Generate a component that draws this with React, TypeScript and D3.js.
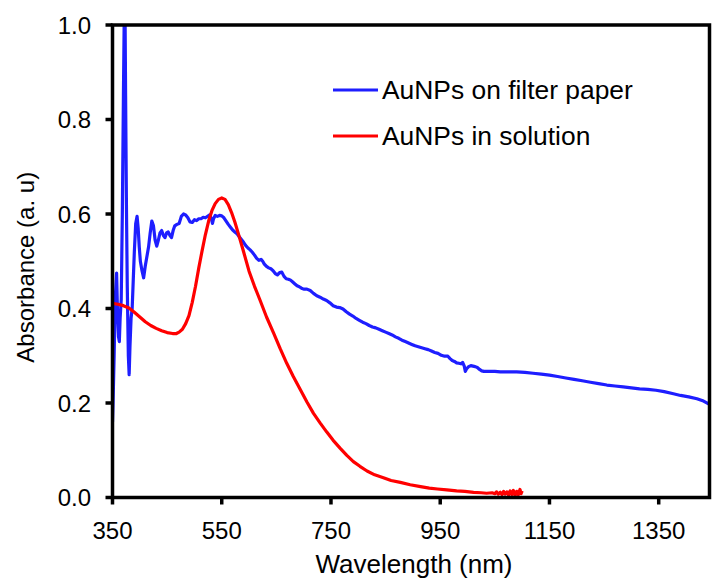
import React from "react";
import * as d3 from "d3";

const blueWavelength = [350,351,353,355,357.5,359,361,362.5,364,366,368,370,371.5,373,374,375.5,377,379,380.5,382,384,386,388,390,392.5,395,397,399,401,404,407,410,413,416,419,422,425,428,431,434,437,440,443,446,449,452,455,458,461,464,468,472,476,480,484,488,492,496,500,504,508,512,516,520,524,528,531,533,535,538,542,546,550,554,558,562,566,570,574,578,582,586,590,594,598,602,606,610,614,618,622,625,628,632,636,640,644,648,652,656,660,664,668,672,676,680,684,688,692,696,700,706,712,718,724,730,736,742,748,754,760,766,772,778,784,790,796,802,808,814,820,826,832,838,844,850,856,862,868,874,880,886,892,898,904,910,916,922,928,934,940,946,952,958,964,968,972,976,980,984,988,991,994,996,998,1002,1006,1010,1014,1018,1022,1026,1030,1040,1050,1060,1075,1090,1105,1120,1135,1150,1165,1180,1195,1210,1225,1240,1255,1270,1285,1300,1315,1330,1345,1360,1375,1390,1405,1420,1432,1443];
const blueAbsorbance = [0.16,0.2,0.3,0.42,0.475,0.4,0.34,0.33,0.38,0.42,0.6,0.85,1.02,1.02,0.85,0.62,0.45,0.3,0.26,0.32,0.38,0.4,0.46,0.52,0.58,0.595,0.57,0.53,0.5,0.48,0.465,0.49,0.51,0.53,0.56,0.585,0.575,0.545,0.532,0.545,0.56,0.565,0.555,0.55,0.56,0.562,0.555,0.55,0.565,0.575,0.578,0.58,0.595,0.6,0.598,0.592,0.583,0.582,0.588,0.586,0.59,0.59,0.593,0.592,0.595,0.598,0.59,0.58,0.59,0.597,0.595,0.597,0.596,0.592,0.585,0.578,0.572,0.566,0.562,0.558,0.552,0.546,0.54,0.533,0.528,0.524,0.519,0.513,0.506,0.502,0.504,0.5,0.494,0.489,0.486,0.484,0.48,0.474,0.471,0.476,0.477,0.468,0.463,0.462,0.46,0.456,0.452,0.448,0.446,0.443,0.441,0.441,0.438,0.432,0.427,0.424,0.42,0.417,0.412,0.406,0.403,0.402,0.399,0.393,0.388,0.384,0.379,0.375,0.371,0.368,0.364,0.361,0.359,0.356,0.353,0.35,0.347,0.344,0.34,0.337,0.333,0.33,0.327,0.324,0.321,0.319,0.317,0.315,0.313,0.31,0.307,0.305,0.301,0.299,0.299,0.294,0.29,0.288,0.285,0.284,0.283,0.286,0.278,0.267,0.272,0.277,0.279,0.278,0.277,0.275,0.271,0.268,0.267,0.267,0.267,0.266,0.266,0.266,0.265,0.263,0.261,0.259,0.256,0.253,0.25,0.247,0.244,0.241,0.238,0.236,0.234,0.232,0.23,0.229,0.227,0.224,0.22,0.216,0.213,0.209,0.204,0.197];

const redWavelength = [350,360,370,380,390,400,410,420,430,440,450,460,467,472,478,484,490,496,502,508,514,520,526,532,538,544,550,556,562,568,574,580,590,600,610,620,632,645,657,669,681,694,706,718,730,742,754,767,779,791,803,816,830,846,860,877,895,914,930,945,962,980,995,1011,1025,1035,1045,1050,1053,1056,1060,1063,1066,1069,1072,1075,1078,1081,1084,1087,1090,1093,1096,1098,1100];
const redAbsorbance = [0.411,0.409,0.406,0.401,0.392,0.382,0.372,0.364,0.358,0.353,0.349,0.347,0.347,0.35,0.356,0.368,0.385,0.413,0.447,0.486,0.522,0.556,0.585,0.607,0.622,0.631,0.634,0.631,0.62,0.603,0.583,0.56,0.52,0.479,0.447,0.418,0.382,0.348,0.315,0.284,0.256,0.228,0.202,0.178,0.158,0.139,0.121,0.104,0.089,0.076,0.066,0.056,0.048,0.042,0.036,0.032,0.027,0.023,0.02,0.018,0.016,0.014,0.013,0.011,0.01,0.009,0.01,0.008,0.012,0.007,0.011,0.006,0.013,0.007,0.012,0.005,0.014,0.006,0.015,0.004,0.013,0.006,0.017,0.008,0.014];

const xTicks = [350, 550, 750, 950, 1150, 1350];
const yTicks = [0, 0.2, 0.4, 0.6, 0.8, 1.0];
const seriesNames = ["AuNPs on filter paper", "AuNPs in solution"];
const seriesColors = ["#1e1eff", "#ff0000"];

const W = 712, H = 582;
const L = 112.5, R = 709.5, T = 25, B = 497.5;

export default function App() {
  const x = d3.scaleLinear().domain([350, 1443]).range([L, R]);
  const y = d3.scaleLinear().domain([0, 1]).range([B, T]);
  const line = d3.line<[number, number]>().x(d => x(d[0])).y(d => y(d[1]));
  const blue: [number, number][] = blueWavelength.map((w, i) => [w, blueAbsorbance[i]]);
  const red: [number, number][] = redWavelength.map((w, i) => [w, redAbsorbance[i]]);
  const font = "Liberation Sans, Arial, sans-serif";
  return (
    <svg width={W} height={H} style={{ position: "absolute", left: 0, top: 0, background: "#fff" }}>
      <defs>
        <clipPath id="plot"><rect x={L} y={T} width={R - L} height={B - T} /></clipPath>
      </defs>
      <g clipPath="url(#plot)" fill="none" strokeWidth={3.2} strokeLinejoin="round">
        <path d={line(blue) || ""} stroke={seriesColors[0]} />
        <path d={line(red) || ""} stroke={seriesColors[1]} />
      </g>
      <rect x={L} y={T} width={R - L} height={B - T} fill="none" stroke="#000" strokeWidth={3.5} />
      {yTicks.map(t => (
        <g key={"y" + t}>
          <line x1={L - 7} x2={L} y1={y(t)} y2={y(t)} stroke="#000" strokeWidth={3.5} />
          <text x={91} y={y(t)} dy="0.36em" textAnchor="end" fontFamily={font} fontSize={24}>{d3.format(".1f")(t)}</text>
        </g>
      ))}
      {xTicks.map(t => (
        <g key={"x" + t}>
          <line x1={x(t)} x2={x(t)} y1={B} y2={B + 7} stroke="#000" strokeWidth={3.5} />
          <text x={x(t)} y={539} textAnchor="middle" fontFamily={font} fontSize={24}>{t}</text>
        </g>
      ))}
      <text x={(L + R) / 2 + 3} y={573} textAnchor="middle" fontFamily={font} fontSize={26}>Wavelength (nm)</text>
      <text transform={`translate(34, ${(T + B) / 2 + 6}) rotate(-90)`} textAnchor="middle" fontFamily={font} fontSize={24}>Absorbance (a. u)</text>
      {seriesNames.map((n, i) => (
        <g key={n}>
          <line x1={333} x2={378} y1={90 + i * 46} y2={90 + i * 46} stroke={seriesColors[i]} strokeWidth={3.2} />
          <text x={382} y={98.5 + i * 46} fontFamily={font} fontSize={26.4}>{n}</text>
        </g>
      ))}
    </svg>
  );
}
